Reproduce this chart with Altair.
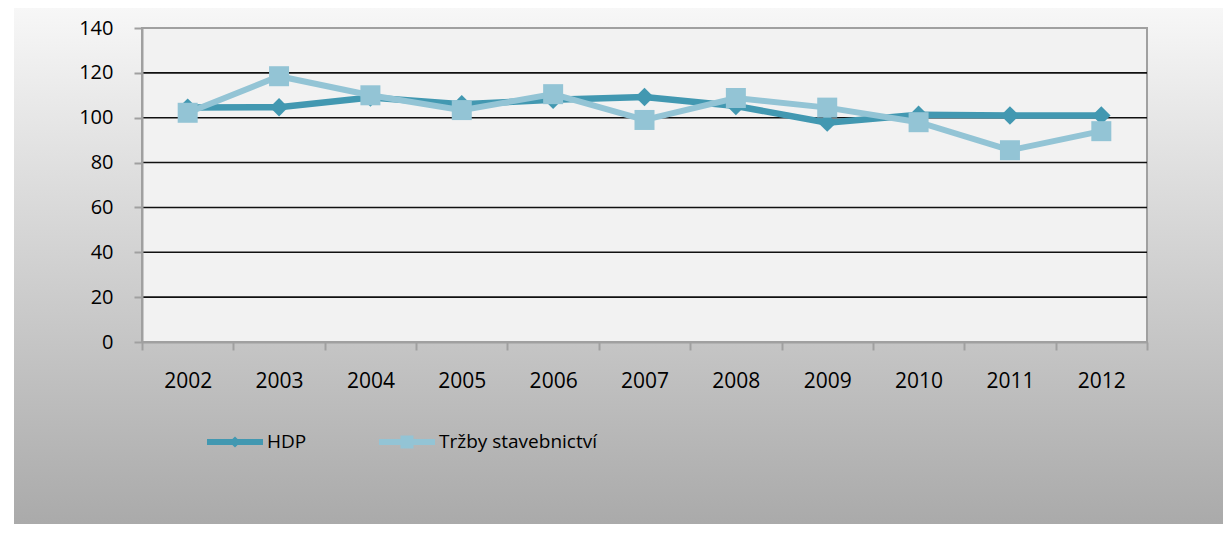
import altair as alt
import pandas as pd

# ---- data ----
YEARS = ["2002", "2003", "2004", "2005", "2006", "2007", "2008", "2009", "2010", "2011", "2012"]
HDP = [104.5, 104.7, 109.0, 106.0, 108.0, 109.2, 105.2, 97.8, 101.3, 101.0, 101.0]
TRZBY = [102.2, 118.5, 110.0, 103.4, 110.5, 99.0, 108.8, 104.5, 98.0, 85.5, 94.0]
SERIES = ["HDP", "Tržby stavebnictví"]
Y_TICKS = [0, 20, 40, 60, 80, 100, 120, 140]
GRID = [20, 40, 60, 80, 100, 120]

# ---- styles ----
COLORS = ["#4298b1", "#93c4d5"]
W, H = 1005, 314
PAD = {"left": 134, "top": 20, "right": 76, "bottom": 182}
AXIS_GRAY = "#a0a0a0"
FONT = "Open Sans"

df = pd.DataFrame({
    "year": YEARS * 2,
    "value": HDP + TRZBY,
    "series": [SERIES[0]] * len(YEARS) + [SERIES[1]] * len(YEARS),
})
one = pd.DataFrame({"k": [0]})
grid_df = pd.DataFrame({"value": GRID})

x_enc = alt.X(
    "year:N",
    sort=YEARS,
    bandPosition=0.5,
    scale=alt.Scale(type="band", paddingInner=0, paddingOuter=0),
    axis=alt.Axis(
        title=None, labelAngle=0, labelFont=FONT, labelFontSize=21, labelColor="#000",
        labelPadding=20, tickBand="extent", tickSize=8, tickWidth=2, tickColor=AXIS_GRAY,
        domainColor=AXIS_GRAY, domainWidth=2, grid=False, zindex=1,
    ),
)
y_enc = alt.Y(
    "value:Q",
    scale=alt.Scale(domain=[0, 140], nice=False, zero=True),
    axis=alt.Axis(
        title=None, values=Y_TICKS, labelFont=FONT, labelFontSize=20, labelColor="#000",
        labelPadding=21, tickSize=8, tickWidth=2, tickColor=AXIS_GRAY,
        domainColor=AXIS_GRAY, domainWidth=2, grid=False, zindex=1,
    ),
)

P_HDP = ("M-1,-0.107L-0.093,-0.107L0,-0.2L0.093,-0.107L1,-0.107L1,0.107"
         "L0.093,0.107L0,0.2L-0.093,0.107L-1,0.107Z")
P_TRZ = ("M-1,-0.107L-0.232,-0.107L-0.232,-0.232L0.232,-0.232L0.232,-0.107L1,-0.107"
         "L1,0.107L0.232,0.107L0.232,0.232L-0.232,0.232L-0.232,0.107L-1,0.107Z")


def build(custom_symbol=True):
    leg_kw = dict(
        title=None, orient="none", legendX=65, legendY=386, direction="horizontal",
        symbolSize=3136, symbolStrokeWidth=0, symbolOpacity=1,
        labelFont=FONT, labelFontSize=19, labelColor="#000", labelOffset=4,
        labelLimit=400, columnPadding=72, padding=0,
    )
    if custom_symbol:
        leg_kw["symbolType"] = alt.ExprRef(
            expr="datum.value === 'HDP' ? '" + P_HDP + "' : '" + P_TRZ + "'"
        )
    else:
        leg_kw["symbolType"] = "square"
    leg = alt.Legend(**leg_kw)
    color_enc = alt.Color("series:N", scale=alt.Scale(domain=SERIES, range=COLORS), legend=leg)

    background = alt.Chart(one).mark_rect(
        fill={
            "gradient": "linear", "x1": 0, "y1": 0, "x2": 0, "y2": 1,
            "stops": [{"offset": 0, "color": "#f7f7f7"}, {"offset": 1, "color": "#aaaaaa"}],
        }
    ).encode(
        x=alt.value(-128), x2=alt.value(W + PAD["right"]),
        y=alt.value(-PAD["top"]), y2=alt.value(H + PAD["bottom"]),
    )
    plot_bg = alt.Chart(one).mark_rect(
        fill="#f2f2f2", stroke=AXIS_GRAY, strokeWidth=2
    ).encode(x=alt.value(0), x2=alt.value(W), y=alt.value(0), y2=alt.value(H))

    grid = alt.Chart(grid_df).mark_rule(color="#111111", strokeWidth=1.6).encode(y=y_enc)

    hdp = alt.Chart(df).transform_filter(alt.datum.series == SERIES[0])
    trz = alt.Chart(df).transform_filter(alt.datum.series == SERIES[1])

    hdp_line = hdp.mark_line(color=COLORS[0], strokeWidth=6.5).encode(x=x_enc, y=y_enc)
    hdp_pts = hdp.mark_point(shape="diamond", filled=True, size=340, opacity=1, strokeWidth=0).encode(
        x=x_enc, y=y_enc, color=color_enc)
    trz_line = trz.mark_line(color=COLORS[1], strokeWidth=6).encode(x=x_enc, y=y_enc)
    trz_pts = trz.mark_point(shape="square", filled=True, size=400, opacity=1, strokeWidth=0).encode(
        x=x_enc, y=y_enc, color=color_enc)

    chart = alt.layer(
        background, plot_bg, grid, hdp_line, hdp_pts, trz_line, trz_pts
    ).properties(
        width=W, height=H, padding=PAD,
        autosize=alt.AutoSizeParams(type="none"),
        background="white",
    ).configure_view(strokeWidth=0)
    return chart


try:
    chart = build(True)
    chart.to_dict()
except Exception:
    chart = build(False)

chart.save("out.html", embed_options={"renderer": "svg", "actions": False})
